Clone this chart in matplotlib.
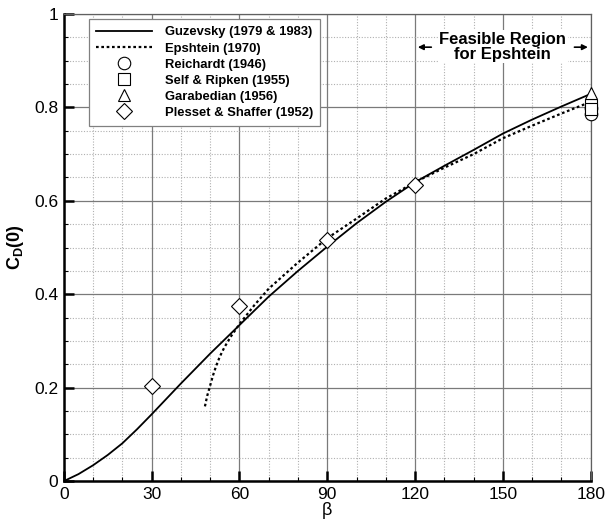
import matplotlib.pyplot as plt
from matplotlib.ticker import MultipleLocator

plt.rcParams['font.family'] = ['Liberation Sans', 'DejaVu Sans']
plt.rcParams['mathtext.fontset'] = 'custom'
plt.rcParams['mathtext.rm'] = 'Liberation Sans'
plt.rcParams['mathtext.bf'] = 'Liberation Sans:bold'

# Guzevsky (1979 & 1983)
guz_beta = [0, 5, 10, 15, 20, 25, 30, 35, 40, 50, 60, 70, 80, 90, 100, 110, 120, 130, 140, 150,
            160, 170, 180]
guz_cd = [0.0, 0.015, 0.034, 0.056, 0.081, 0.111, 0.143, 0.176, 0.209, 0.273, 0.334, 0.395, 0.45,
          0.502, 0.552, 0.598, 0.64, 0.675, 0.709, 0.744, 0.774, 0.802, 0.829]

# Epshtein (1970)
eps_beta = [48.2, 49, 50, 51, 52, 53, 54, 55, 57, 60, 65, 70, 80, 90, 100, 110, 120, 130, 140,
            150, 160, 170, 180]
eps_cd = [0.16, 0.183, 0.205, 0.227, 0.246, 0.262, 0.276, 0.288, 0.309, 0.336, 0.376, 0.412,
          0.468, 0.52, 0.562, 0.605, 0.64, 0.671, 0.70, 0.734, 0.761, 0.787, 0.812]

# experiments
reich_beta = [180, 180]
reich_cd = [0.787, 0.799]
self_beta = [180, 180]
self_cd = [0.806, 0.797]
garab_beta = [180]
garab_cd = [0.830]
pless_beta = [30, 60, 90, 120]
pless_cd = [0.204, 0.375, 0.516, 0.634]

fig = plt.figure(figsize=(6.14, 5.19), dpi=100)
ax = fig.add_axes([0.104, 0.073, 0.858, 0.900])

ax.plot(guz_beta, guz_cd, color='black', lw=1.3, label='Guzevsky (1979 & 1983)')
ax.plot(eps_beta, eps_cd, color='black', lw=1.6, ls=(0, (1.2, 1.2)), label='Epshtein (1970)')

mk = dict(ls='none', mfc='white', mec='black', mew=0.8, ms=9, clip_on=False, zorder=5)
ax.plot(reich_beta, reich_cd, marker='o', label='Reichardt (1946)', **mk)
ax.plot(self_beta, self_cd, marker='s', label='Self & Ripken (1955)', **dict(mk, ms=8))
ax.plot(garab_beta, garab_cd, marker='^', label='Garabedian (1956)', **mk)
ax.plot(pless_beta, pless_cd, marker='D', label='Plesset & Shaffer (1952)', **dict(mk, ms=8))

ax.set_xlim(0, 180)
ax.set_ylim(0, 1)
ax.xaxis.set_major_locator(MultipleLocator(30))
ax.xaxis.set_minor_locator(MultipleLocator(10))
ax.yaxis.set_major_locator(MultipleLocator(0.2))
ax.yaxis.set_minor_locator(MultipleLocator(0.05))
ax.set_yticks([0, 0.2, 0.4, 0.6, 0.8, 1.0])
ax.set_yticklabels(['0', '0.2', '0.4', '0.6', '0.8', '1'])

ax.grid(True, which='major', color='#7a7a7a', lw=0.9, ls='-')
ax.grid(True, which='minor', color='#b0b0b0', lw=0.8, ls=(0, (1, 1.5)))
ax.set_axisbelow(True)

ax.tick_params(which='major', direction='in', length=7, width=1.8, labelsize=12.5,
               top=False, right=False, pad=4)
ax.tick_params(which='minor', direction='in', length=3, width=0.8, top=False, right=False)

for s in ['left', 'bottom']:
    ax.spines[s].set_linewidth(1.8)
    ax.spines[s].set_color('black')
for s in ['top', 'right']:
    ax.spines[s].set_linewidth(0.9)
    ax.spines[s].set_color('#606060')

ax.set_xlabel('β', fontsize=13, labelpad=0)
ax.set_ylabel(r'$\mathbf{C_D(0)}$', fontsize=13, labelpad=6)

leg = ax.legend(loc='upper left', bbox_to_anchor=(0.047, 0.989), borderaxespad=0,
                fancybox=False, framealpha=1, edgecolor='#808080', handlelength=4.3,
                labelspacing=0.3, borderpad=0.55, handletextpad=1.0,
                prop={'weight': 'bold', 'size': 9.4})
leg.get_frame().set_linewidth(0.9)

ax.text(150, 0.93, 'Feasible Region\nfor Epshtein', ha='center', va='center',
        fontsize=12, fontweight='bold', linespacing=1.0,
        bbox=dict(facecolor='white', edgecolor='none', pad=1))
ap = dict(arrowstyle='-|>', color='black', lw=1.2, mutation_scale=8)
ax.annotate('', xy=(120, 0.929), xytext=(126.5, 0.929), arrowprops=ap)
ax.annotate('', xy=(180, 0.929), xytext=(173.5, 0.929), arrowprops=ap, annotation_clip=False)

fig.savefig('out.png', dpi=100)
